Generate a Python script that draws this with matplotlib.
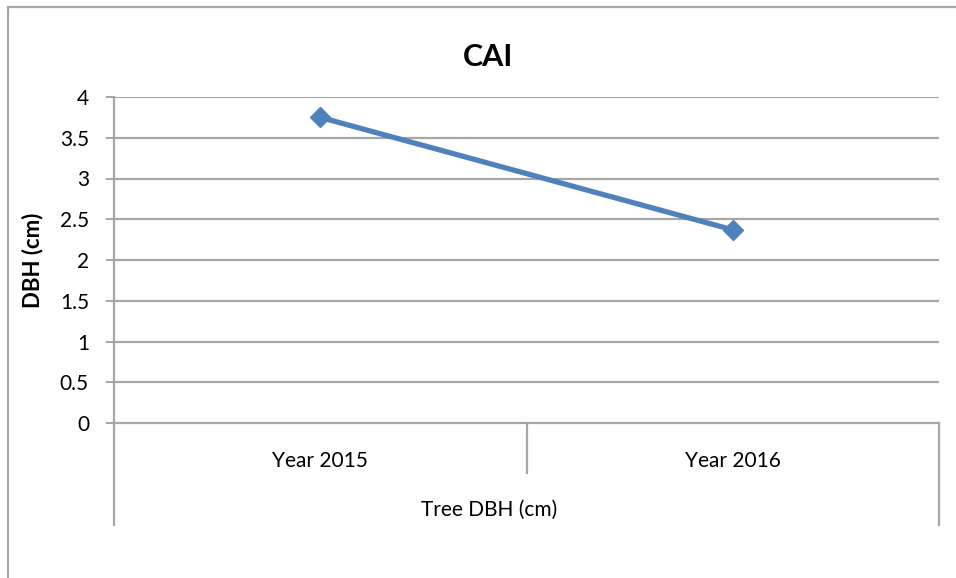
import matplotlib
matplotlib.use("Agg")
import matplotlib.pyplot as plt
from matplotlib.lines import Line2D
from matplotlib.patches import Rectangle

categories = ["Year 2015", "Year 2016"]
values = [3.75, 2.37]
yticks = [0, 0.5, 1, 1.5, 2, 2.5, 3, 3.5, 4]
title = "CAI"
ylabel = "DBH (cm)"
xlabel = "Tree DBH (cm)"

plt.rcParams['font.family'] = ['Lato', 'DejaVu Sans']

W, H = 956, 578
fig = plt.figure(figsize=(W / 100, H / 100), dpi=100)
L, R, T, B = 114, 939, 97, 423
ax = fig.add_axes([L / W, 1 - B / H, (R - L) / W, (B - T) / H])

grid_c = "#A6A6A6"
blue = "#4F81BD"

x = list(range(len(categories)))
ax.plot(x, values, color=blue, lw=3.8, marker="D", markersize=10,
        markerfacecolor=blue, markeredgecolor=blue, zorder=5, clip_on=False)

ax.set_xlim(-0.5, len(categories) - 0.5)
ax.set_ylim(0, 4)
ax.set_yticks(yticks)
ax.set_yticklabels([f"{v:g}" for v in yticks], fontsize=15)
for v in yticks[1:]:
    ax.axhline(v, color=grid_c, lw=1.6, zorder=1)

ax.set_xticks(x)
ax.set_xticklabels(categories, fontsize=15)
ax.tick_params(axis="x", length=0, pad=20)
ax.tick_params(axis="y", length=6, width=1.4, color=grid_c, pad=12)

for s in ["top", "right"]:
    ax.spines[s].set_visible(False)
for s in ["left", "bottom"]:
    ax.spines[s].set_color(grid_c)
    ax.spines[s].set_linewidth(1.6)

# multi-level category axis separators
tr = ax.get_xaxis_transform()
deep = -(525 - B) / (B - T)
mid = -(473 - B) / (B - T)
for xv, yb in [(-0.5, deep), (0.5, mid), (len(categories) - 0.5, deep)]:
    ax.add_line(Line2D([xv, xv], [0, yb], transform=tr, color=grid_c,
                       lw=1.6, clip_on=False))

fig.text(489 / W, 1 - 510 / H, xlabel, fontsize=15,
         ha="center", va="center")
fig.text(33 / W, 1 - 260 / H, ylabel, fontsize=16, fontweight="bold",
         rotation=90, ha="center", va="center")
fig.text(488 / W, 1 - 57 / H, title, fontsize=22, fontweight="bold",
         ha="center", va="center")

# outer chart border
fig.patches.append(Rectangle((8 / W, -0.1), 1.2, 1.1 - 7 / H,
                             transform=fig.transFigure, fill=False,
                             edgecolor=grid_c, lw=1.6))

fig.savefig("out.png", dpi=100)
